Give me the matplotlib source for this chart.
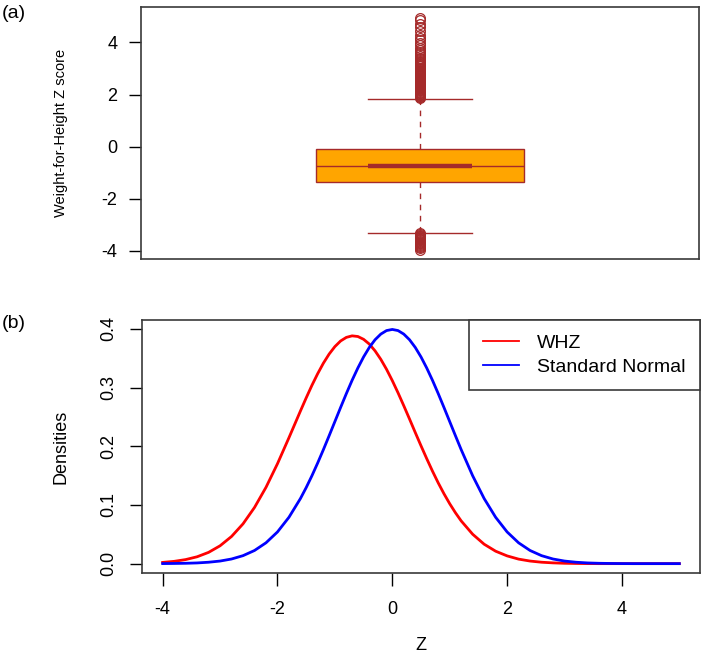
import matplotlib
matplotlib.use("Agg")
from matplotlib import pyplot as plt
from matplotlib.lines import Line2D

plt.rcParams['font.family'] = ['Liberation Sans', 'DejaVu Sans']

# ---- panel (a): WHZ boxplot summary ----
whz_q1 = -1.37
whz_med = -0.75
whz_q3 = -0.09
whz_whislo = -3.30
whz_whishi = 1.84
whz_out_high = [1.86, 1.89, 1.91, 1.94, 1.97, 2.00, 2.03, 2.05, 2.08, 2.11, 2.14, 2.17,
                2.19, 2.22, 2.25, 2.28, 2.31, 2.34, 2.37, 2.40, 2.43, 2.46, 2.49, 2.52,
                2.55, 2.58, 2.61, 2.64, 2.67, 2.71, 2.74, 2.77, 2.80, 2.84, 2.87, 2.90,
                2.94, 2.97, 3.01, 3.04, 3.08, 3.12, 3.16, 3.20, 3.25, 3.30, 3.36, 3.42,
                3.49, 3.56, 3.64, 3.72, 3.80, 3.89, 3.98, 4.08, 4.19, 4.30, 4.45, 4.60,
                4.72, 4.85, 4.95]
whz_out_low = [-3.32, -3.35, -3.38, -3.41, -3.44, -3.47, -3.50, -3.53, -3.56, -3.59,
               -3.62, -3.65, -3.68, -3.71, -3.74, -3.77, -3.80, -3.84, -3.89, -3.95]

# ---- panel (b): density curves ----
z_grid = [-4.0, -3.8, -3.6, -3.4, -3.2, -3.0, -2.8, -2.6, -2.4, -2.2, -2.0, -1.8,
          -1.6, -1.5, -1.4, -1.3, -1.2, -1.1, -1.0, -0.9, -0.8, -0.7, -0.6, -0.5,
          -0.4, -0.3, -0.2, -0.1, 0.0, 0.1, 0.2, 0.3, 0.4, 0.5, 0.6, 0.7, 0.8, 0.9,
          1.0, 1.1, 1.2, 1.4, 1.6, 1.8, 2.0, 2.2, 2.4, 2.6, 2.8, 3.0, 3.2, 3.4, 3.6,
          3.8, 4.0, 4.2, 4.4, 4.6, 4.8, 5.0]
dens_whz = [0.0021, 0.0039, 0.0069, 0.0117, 0.0192, 0.0304, 0.0463, 0.0678, 0.0957,
            0.1300, 0.1702, 0.2145,
            0.2600, 0.2823, 0.3037, 0.3235, 0.3415, 0.3570, 0.3697, 0.3793, 0.3854,
            0.3880, 0.3869, 0.3821, 0.3740, 0.3624, 0.3480, 0.3310, 0.3118, 0.2910,
            0.2690, 0.2464, 0.2234, 0.2008, 0.1788, 0.1576, 0.1376, 0.1191, 0.1021,
            0.0867, 0.0728,
            0.0501, 0.0331, 0.0212, 0.0132, 0.0077, 0.0044, 0.0024, 0.0013, 0.0006,
            0.0003, 0.0001, 0.0, 0.0, 0.0, 0.0, 0.0, 0.0, 0.0, 0.0]
dens_std = [0.0001, 0.0003, 0.0006, 0.0012, 0.0024, 0.0044, 0.0079, 0.0136, 0.0224,
            0.0355, 0.0540, 0.0790,
            0.1109, 0.1295, 0.1497, 0.1714, 0.1942, 0.2179, 0.2420, 0.2661, 0.2897,
            0.3123, 0.3332, 0.3521, 0.3683, 0.3814, 0.3910, 0.3970, 0.3989, 0.3970,
            0.3910, 0.3814, 0.3683, 0.3521, 0.3332, 0.3123, 0.2897, 0.2661, 0.2420,
            0.2179, 0.1942,
            0.1497, 0.1109, 0.0790, 0.0540, 0.0355, 0.0224, 0.0136, 0.0079, 0.0044,
            0.0024, 0.0012, 0.0006, 0.0003, 0.0001, 0.0, 0.0, 0.0, 0.0, 0.0]
legend_names = ['WHZ', 'Standard Normal']

brown = '#a52a2a'
frame_col = '#3a3a3a'

fig = plt.figure(figsize=(7.04, 6.65), dpi=100)
ax1 = fig.add_axes([0.2003, 0.6105, 0.7926, 0.3789])
ax2 = fig.add_axes([0.2017, 0.1383, 0.7926, 0.3805])

# top: boxplot
stats = [dict(med=whz_med, q1=whz_q1, q3=whz_q3, whislo=whz_whislo, whishi=whz_whishi,
              fliers=whz_out_high + whz_out_low)]
pos = 0.5
capw = 0.186
ax1.bxp(stats, positions=[pos], widths=0.371, capwidths=[capw], patch_artist=True,
        boxprops=dict(facecolor='#ffa500', edgecolor=brown, linewidth=1.0),
        whiskerprops=dict(color=brown, linestyle=(0, (4, 4)), linewidth=1.0),
        capprops=dict(color=brown, linewidth=1.0),
        medianprops=dict(color=brown, linewidth=1.0),
        flierprops=dict(marker='o', markersize=7, markerfacecolor='none',
                        markeredgecolor=brown, markeredgewidth=0.9))
ax1.hlines(whz_med, pos - capw / 2, pos + capw / 2, color=brown, linewidth=3.2, zorder=5)
ax1.set_xlim(0, 1)
ax1.set_ylim(-4.31, 5.36)
ax1.set_xticks([])
ax1.set_yticks([-4, -2, 0, 2, 4])
ax1.set_yticklabels(['-4', '-2', '0', '2', '4'])
ax1.tick_params(axis='y', length=9, width=1, labelsize=13, pad=8)
ax1.set_ylabel('Weight-for-Height Z score', fontsize=10.5, va='center')
ax1.yaxis.set_label_coords(-0.143, 0.5)

# bottom: densities
ax2.plot(z_grid, dens_whz, color='red', linewidth=2)
ax2.plot(z_grid, dens_std, color='blue', linewidth=2)
ax2.set_xlim(-4.36, 5.36)
ax2.set_ylim(-0.016, 0.415)
ax2.set_xticks([-4, -2, 0, 2, 4])
ax2.set_xticklabels(['-4', '-2', '0', '2', '4'])
ax2.set_yticks([0.0, 0.1, 0.2, 0.3, 0.4])
ax2.set_yticklabels(['0.0', '0.1', '0.2', '0.3', '0.4'], rotation=90, va='center')
ax2.tick_params(axis='both', length=9, width=1, labelsize=13)
ax2.tick_params(axis='x', pad=11)
ax2.tick_params(axis='y', pad=9)
ax2.set_xlabel('Z', fontsize=13, va='center')
ax2.xaxis.set_label_coords(0.5, -0.285)
ax2.set_ylabel('Densities', fontsize=13, va='center')
ax2.yaxis.set_label_coords(-0.145, 0.5)

handles = [Line2D([], [], color='red', linewidth=1.3),
           Line2D([], [], color='blue', linewidth=1.3)]
leg = ax2.legend(handles, legend_names, loc='upper right', bbox_to_anchor=(1, 1),
                 borderaxespad=0, fancybox=False, fontsize=14, handlelength=1.85,
                 handletextpad=0.9, labelspacing=0.3, borderpad=0.75, framealpha=1)
leg.get_frame().set_edgecolor(frame_col)
leg.get_frame().set_linewidth(1.2)

for ax in (ax1, ax2):
    for sp in ax.spines.values():
        sp.set_color(frame_col)
        sp.set_linewidth(1.2)

fig.text(0.003, 1 - 13 / 665, '(a)', fontsize=14, va='center', ha='left')
fig.text(0.003, 1 - 323 / 665, '(b)', fontsize=14, va='center', ha='left')

plt.savefig('out.png', dpi=100)
